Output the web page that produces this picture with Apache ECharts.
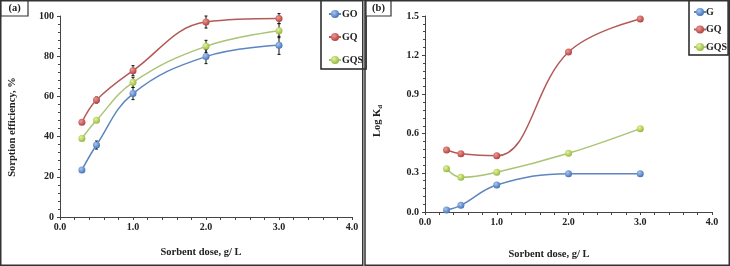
<!DOCTYPE html>
<html>
<head>
<meta charset="utf-8">
<script src="https://cdn.jsdelivr.net/npm/echarts@6/dist/echarts.min.js"></script>
<style>
  html, body { margin: 0; padding: 0; background: #fff; }
  #chart { width: 730px; height: 266px; }
</style>
</head>
<body>
<div id="chart"></div>
<script>
// sorbent dose values (g/L), shared by both panels
const doses = [0.3, 0.5, 1.0, 2.0, 3.0];

// panel (a): sorption efficiency, %
const effGO = [23.4, 35.8, 61.4, 79.8, 85.4];
const effGQ = [47.1, 58.2, 72.8, 97.0, 98.7];
const effGQS = [39.1, 48.1, 67.0, 84.9, 92.7];
// error bar half-widths for panel (a)
const errGO = [1, 2, 3, 3.5, 4.5];
const errGQ = [1, 1.5, 2.5, 3, 2.5];
const errGQS = [1, 1, 2.5, 3, 3.5];

// panel (b): log Kd
const logG = [0.015, 0.051, 0.207, 0.293, 0.293];
const logGQ = [0.474, 0.446, 0.43, 1.224, 1.477];
const logGQS = [0.331, 0.265, 0.304, 0.449, 0.638];

const xTicks = ['0.0', '1.0', '2.0', '3.0', '4.0'];

const FONT = 'Liberation Serif';
const AXIS_COLOR = '#444';

const BLUE = { line: '#5b86c0', dot: ['#a9c6ef', '#3d6db3'] };
const RED = { line: '#b35b58', dot: ['#ec9a97', '#b03b37'] };
const GREEN = { line: '#a9c474', dot: ['#e4f39d', '#93b43a'] };

const pair = (xs, ys) => xs.map((x, i) => [x, ys[i]]);

function ball(c) {
    return {
        type: 'radial', x: 0.38, y: 0.35, r: 0.7,
        colorStops: [{ offset: 0, color: c[0] }, { offset: 1, color: c[1] }]
    };
}

function lineSeries(name, data, col, idx) {
    return {
        name: name,
        type: 'line',
        xAxisIndex: idx,
        yAxisIndex: idx,
        data: data,
        smooth: 0.4,
        symbol: 'circle',
        symbolSize: 7,
        showSymbol: true,
        lineStyle: { color: col.line, width: 1.5 },
        itemStyle: { color: ball(col.dot), borderWidth: 0 },
        z: 3
    };
}

function errSeries(ys, errs) {
    return {
        type: 'custom',
        xAxisIndex: 0,
        yAxisIndex: 0,
        z: 2,
        silent: true,
        data: doses.map((x, i) => [x, ys[i] - errs[i], ys[i] + errs[i]]),
        renderItem: function (params, api) {
            const lo = api.coord([api.value(0), api.value(1)]);
            const hi = api.coord([api.value(0), api.value(2)]);
            const st = { stroke: '#111', lineWidth: 1 };
            return {
                type: 'group',
                children: [
                    { type: 'line', shape: { x1: lo[0], y1: lo[1], x2: hi[0], y2: hi[1] }, style: st },
                    { type: 'line', shape: { x1: lo[0] - 1.5, y1: lo[1], x2: lo[0] + 1.5, y2: lo[1] }, style: st },
                    { type: 'line', shape: { x1: hi[0] - 1.5, y1: hi[1], x2: hi[0] + 1.5, y2: hi[1] }, style: st }
                ]
            };
        }
    };
}

const xAxisBase = {
    type: 'value',
    min: 0,
    max: 4,
    interval: 1,
    axisLine: { show: true, lineStyle: { color: AXIS_COLOR, width: 1 } },
    axisTick: { show: true, length: 3, lineStyle: { color: AXIS_COLOR } },
    minorTick: { show: true, splitNumber: 5, length: 3, lineStyle: { color: AXIS_COLOR } },
    splitLine: { show: false },
    axisLabel: {
        fontFamily: FONT, fontWeight: 'bold', fontSize: 10, color: '#222', margin: 5,
        formatter: v => xTicks[Math.round(v)]
    }
};

const yAxisBase = {
    type: 'value',
    axisLine: { show: true, lineStyle: { color: AXIS_COLOR, width: 1 } },
    axisTick: { show: true, length: 3, lineStyle: { color: AXIS_COLOR } },
    minorTick: { show: true, splitNumber: 5, length: 2, lineStyle: { color: AXIS_COLOR } },
    splitLine: { show: false },
    axisLabel: { fontFamily: FONT, fontWeight: 'bold', fontSize: 10, color: '#222', margin: 6 }
};

const titleStyle = { fontFamily: FONT, fontWeight: 'bold', fontSize: 10.5, fill: '#222' };

const chart = echarts.init(document.getElementById('chart'));

const option = {
    backgroundColor: '#fff',
    animation: false,
    grid: [
        { left: 60, right: 378, top: 16, bottom: 49 },
        { left: 425, right: 18, top: 16, bottom: 54 }
    ],
    xAxis: [
        Object.assign({}, xAxisBase, { gridIndex: 0 }),
        Object.assign({}, xAxisBase, { gridIndex: 1 })
    ],
    yAxis: [
        Object.assign({}, yAxisBase, { gridIndex: 0, min: 0, max: 100, interval: 20 }),
        Object.assign({}, yAxisBase, {
            gridIndex: 1, min: 0, max: 1.5, interval: 0.3,
            axisLabel: Object.assign({}, yAxisBase.axisLabel, { formatter: v => v.toFixed(1) })
        })
    ],
    legend: [
        {
            orient: 'vertical', left: 321, top: 0,
            data: ['GO', 'GQ', 'GQS'],
            backgroundColor: '#fff',
            borderColor: '#222', borderWidth: 1.5,
            padding: [9, 3, 4, 7], itemGap: 13,
            itemWidth: 12, itemHeight: 10,
            textStyle: { fontFamily: FONT, fontWeight: 'bold', fontSize: 10, color: '#222', padding: [0, 0, 0, -4] }
        },
        {
            orient: 'vertical', left: 689, top: 0,
            data: ['G', 'GQ', 'GQS'],
            backgroundColor: '#fff',
            borderColor: '#222', borderWidth: 1.5,
            padding: [7, 1, 3, 4], itemGap: 7.5,
            itemWidth: 12, itemHeight: 10,
            textStyle: { fontFamily: FONT, fontWeight: 'bold', fontSize: 10, color: '#222', padding: [0, 0, 0, -5] }
        }
    ],
    graphic: [
        // panel frames
        { type: 'rect', shape: { x: 0.75, y: 0.75, width: 362, height: 264.5 }, style: { fill: 'none', stroke: '#333', lineWidth: 1.5 }, z: 10 },
        { type: 'rect', shape: { x: 365, y: 0.75, width: 364.25, height: 264.5 }, style: { fill: 'none', stroke: '#333', lineWidth: 1.5 }, z: 10 },
        // panel tags
        { type: 'rect', shape: { x: 1, y: 1, width: 27, height: 15 }, style: { fill: '#fff', stroke: '#333', lineWidth: 1.2 }, z: 10 },
        { type: 'text', x: 14.5, y: 8.5, style: Object.assign({ text: '(a)', align: 'center', verticalAlign: 'middle' }, titleStyle), z: 11 },
        { type: 'rect', shape: { x: 366, y: 1, width: 25, height: 15 }, style: { fill: '#fff', stroke: '#333', lineWidth: 1.2 }, z: 10 },
        { type: 'text', x: 378.5, y: 8.5, style: Object.assign({ text: '(b)', align: 'center', verticalAlign: 'middle' }, titleStyle), z: 11 },
        // axis titles
        { type: 'text', x: 201, y: 252, style: Object.assign({ text: 'Sorbent dose, g/ L', align: 'center', verticalAlign: 'middle' }, titleStyle) },
        { type: 'text', x: 12, y: 127, rotation: Math.PI / 2, style: Object.assign({ text: 'Sorption efficiency, %', align: 'center', verticalAlign: 'middle' }, titleStyle) },
        { type: 'text', x: 549, y: 254, style: Object.assign({ text: 'Sorbent dose, g/ L', align: 'center', verticalAlign: 'middle' }, titleStyle) },
        {
            type: 'text', x: 377, y: 121, rotation: Math.PI / 2,
            style: Object.assign({
                text: '{n|Log K}{s|d}', align: 'center', verticalAlign: 'middle',
                rich: {
                    n: { fontFamily: FONT, fontWeight: 'bold', fontSize: 10.5, fill: '#222' },
                    s: { fontFamily: FONT, fontWeight: 'bold', fontSize: 7, fill: '#222', padding: [6, 0, 0, 0] }
                }
            }, titleStyle)
        }
    ],
    series: [
        errSeries(effGO, errGO),
        errSeries(effGQ, errGQ),
        errSeries(effGQS, errGQS),
        lineSeries('GO', pair(doses, effGO), BLUE, 0),
        lineSeries('GQ', pair(doses, effGQ), RED, 0),
        lineSeries('GQS', pair(doses, effGQS), GREEN, 0),
        lineSeries('G', pair(doses, logG), BLUE, 1),
        lineSeries('GQ', pair(doses, logGQ), RED, 1),
        lineSeries('GQS', pair(doses, logGQS), GREEN, 1)
    ]
};

chart.setOption(option);
window.addEventListener('resize', function () {
    chart.resize();
});
</script>
</body>
</html>
